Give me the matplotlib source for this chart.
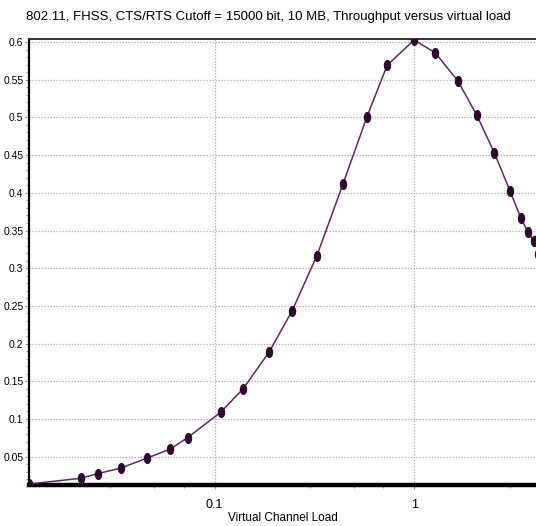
import matplotlib
matplotlib.use("Agg")
import matplotlib.pyplot as plt
import numpy as np
from matplotlib.path import Path
from matplotlib.transforms import Affine2D
from matplotlib.ticker import MultipleLocator, FixedLocator, NullFormatter

# virtual channel load vs throughput
load = [0.0118, 0.0214, 0.0260, 0.0340, 0.0461, 0.0600, 0.0733, 0.1072,
        0.1391, 0.1871, 0.2446, 0.3251, 0.4385, 0.578, 0.730, 0.995,
        1.269, 1.648, 2.051, 2.512, 3.0, 3.417, 3.702, 3.945, 4.083, 4.155]
throughput = [0.0138, 0.0214, 0.0275, 0.0350, 0.0483, 0.0602, 0.0752, 0.1089,
              0.1402, 0.1884, 0.2436, 0.3165, 0.4112, 0.5004, 0.569, 0.6026,
              0.586, 0.5486, 0.503, 0.453, 0.403, 0.366, 0.348, 0.3364, 0.338, 0.3188]

ytick_vals = [0.05, 0.1, 0.15, 0.2, 0.25, 0.3, 0.35, 0.4, 0.45, 0.5, 0.55, 0.6]
ytick_labels = ["0.05", "0.1", "0.15", "0.2", "0.25", "0.3", "0.35", "0.4",
                "0.45", "0.5", "0.55", "0.6"]
xtick_vals = [0.1, 1]
xtick_labels = ["0.1", "1"]

title = "802.11, FHSS, CTS/RTS Cutoff = 15000 bit, 10 MB, Throughput versus virtual load"
xlabel = "Virtual Channel Load"

plt.rcParams['font.family'] = ['Liberation Sans', 'DejaVu Sans']

fig = plt.figure(figsize=(5.36, 5.26), dpi=100)
ax = fig.add_axes([29 / 536, 1 - 485 / 526, 1 - 29 / 536 + 0.002, (485 - 39) / 526])

# elliptical marker, taller than wide
ellipse = Path.unit_circle().transformed(Affine2D().scale(0.62, 1.0))

ax.plot(load, throughput, color='#5e2a5c', linewidth=1.1,
        marker=ellipse, markersize=7, markerfacecolor='#2e0b2e',
        markeredgecolor='#2e0b2e', zorder=3)

ax.set_xscale('log')
ax.set_xlim(0.0118, 4.108)
ax.set_ylim(0.0125, 0.604)

ax.set_yticks(ytick_vals)
ax.set_yticklabels(ytick_labels)
ax.yaxis.set_minor_locator(MultipleLocator(0.01))
ax.set_xticks(xtick_vals)
ax.set_xticklabels(xtick_labels)
ax.xaxis.set_minor_locator(FixedLocator([0.03, 0.05, 0.07, 0.3, 0.5, 0.7, 3]))
ax.xaxis.set_minor_formatter(NullFormatter())

ax.tick_params(axis='y', which='major', labelsize=7.5, pad=1)
ax.tick_params(axis='x', which='major', labelsize=9, pad=7)
ax.tick_params(axis='both', which='major', length=3, color='#999999', width=0.8)
ax.tick_params(axis='both', which='minor', length=2.5, color='#999999', width=0.7)

ax.grid(True, which='major', color='#b5b5b5', linestyle=(0, (1.2, 1.2)), linewidth=0.9)

ax.spines['left'].set_linewidth(1.6)
ax.spines['left'].set_color('black')
ax.spines['bottom'].set_linewidth(3.2)
ax.spines['bottom'].set_color('black')
ax.spines['top'].set_linewidth(1.4)
ax.spines['top'].set_color('#333333')
ax.spines['right'].set_visible(False)

ax.set_xlabel(xlabel, fontsize=8.5, labelpad=1)
fig.text(0.5, 1 - 17 / 526, title, ha='center', va='center', fontsize=9.5)

fig.savefig('out.png', dpi=100)
